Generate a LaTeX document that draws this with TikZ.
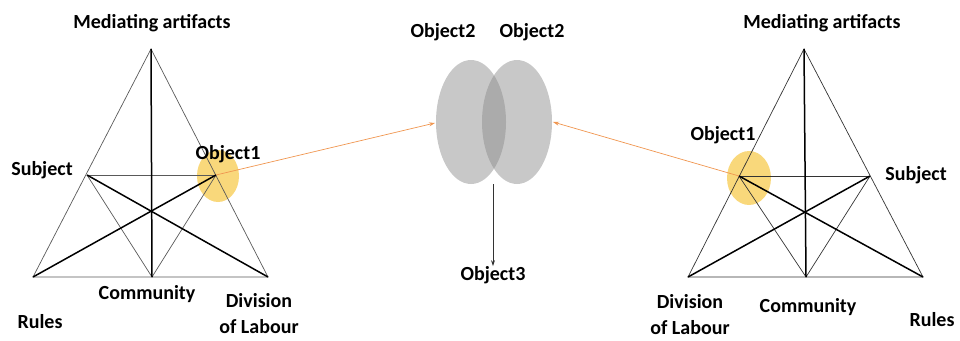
\documentclass[tikz,border=0pt]{standalone}
\usepackage{fontspec}
\setmainfont{Carlito}
\usetikzlibrary{arrows.meta}
\definecolor{ygold}{RGB}{248,206,90}
\definecolor{ogray}{RGB}{134,134,134}
\definecolor{orng}{RGB}{240,150,80}
\tikzset{
  lbl/.style={font=\bfseries\fontsize{20}{26}\selectfont, inner sep=0pt, align=center},
  thin/.style={draw=black!65, line width=0.7pt},
  thick/.style={draw=black, line width=1.5pt},
  hl/.style={fill=ygold, opacity=0.8, draw=none},
  obj/.style={fill=ogray, fill opacity=0.45, draw=none},
  oarrow/.style={draw=orng, line width=0.7pt, -{Stealth[length=6pt,width=4pt]}},
  darrow/.style={draw=black!80, line width=0.8pt, -{Stealth[length=6pt,width=4pt]}},
}
\begin{document}
\begin{tikzpicture}[x=1pt,y=-1pt]
\useasboundingbox (0,0) rectangle (960,340);
% ---------- left triangle ----------
\coordinate (LA) at (151,49);
\coordinate (LR) at (33,277);
\coordinate (LD) at (268,277);
\coordinate (LC) at (152,277);
\coordinate (LS) at (87,175);
\coordinate (LO) at (216,175);
\fill[hl] (218,176) ellipse [x radius=21, y radius=26];
\draw[thin] (LA) -- (LR) -- (LD) -- cycle;
\draw[thin] (LS) -- (LO);
\draw[thin] (LS) -- (LC) -- (LO);
\draw[thick] (LA) -- (LC);
\draw[thick] (LS) -- (LD);
\draw[thick] (LO) -- (LR);
\node[lbl] (lma) at (152,23) {Mediating artifacts};
\node[lbl] (lob) at (228,154) {Object1};
\node[lbl] (lsu) at (42,170) {Subject};
\node[lbl] (lco) at (147,294) {Community};
\node[lbl] (lru) at (40,322) {Rules};
\node[lbl] (ldl) at (259,314) {Division\\of Labour};
% ---------- right triangle ----------
\coordinate (RA) at (804,49);
\coordinate (RD) at (688,277);
\coordinate (RR) at (923,277);
\coordinate (RC) at (806,277);
\coordinate (RO) at (739,176);
\coordinate (RS) at (870,176);
\fill[hl] (749,178) ellipse [x radius=22, y radius=27];
\draw[thin,draw=black!80] (RA) -- (RD) -- (RR) -- cycle;
\draw[thin,draw=black!80] (RO) -- (RS);
\draw[thin,draw=black!80] (RO) -- (RC) -- (RS);
\draw[thick] (RA) -- (RC);
\draw[thick] (RO) -- (RR);
\draw[thick] (RS) -- (RD);
\node[lbl] (rma) at (822,23) {Mediating artifacts};
\node[lbl] (rob) at (723,135) {Object1};
\node[lbl] (rsu) at (916,175) {Subject};
\node[lbl] (rco) at (808,307) {Community};
\node[lbl] (rru) at (932,320) {Rules};
\node[lbl] (rdl) at (690,315) {Division\\of Labour};
% ---------- centre ----------
\fill[obj] (471,122) ellipse [x radius=35, y radius=62];
\fill[obj] (517,122) ellipse [x radius=35, y radius=62];
\node[lbl] (o2a) at (443,32) {Object2};
\node[lbl] (o2b) at (532,32) {Object2};
\coordinate (L2) at (435,123);
\coordinate (R2) at (553,122);
\coordinate (C2) at (493,184);
\node[lbl] (o3) at (493,275) {Object3};
\draw[oarrow] (LO) -- (L2);
\draw[oarrow] (RO) -- (R2);
\draw[darrow] (C2) -- (o3.north);
\end{tikzpicture}
\end{document}
